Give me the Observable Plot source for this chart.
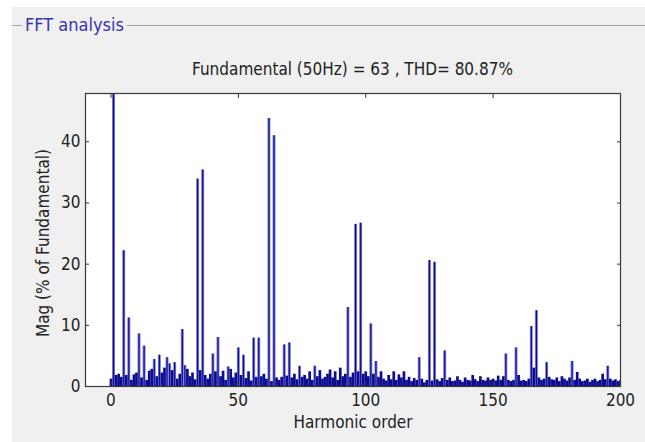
<!DOCTYPE html>
<html><head><meta charset="utf-8">
<script src="https://cdn.jsdelivr.net/npm/d3@7"></script>
<script src="https://cdn.jsdelivr.net/npm/@observablehq/plot@0.6"></script>
<style>
body{margin:0;background:#fff;}
#wrap{position:relative;width:645px;height:442px;overflow:hidden;background:#fff;font-family:"DejaVu Sans Condensed","Liberation Sans",sans-serif;}
#panel{position:absolute;left:12px;top:7px;right:0;bottom:0;background:#f0f0f0;}
#hline{position:absolute;left:12px;top:25px;width:633px;height:1px;background:#a8a8a8;}
#hdr{position:absolute;left:22px;top:14px;height:22px;line-height:22px;padding:0 3px;background:#f0f0f0;color:#3434b4;font-size:18px;}
#title{position:absolute;left:85px;width:535px;top:58px;text-align:center;font-size:17px;color:#222;line-height:22px;}
#chart{position:absolute;left:0;top:0;}
</style></head>
<body>
<div id="wrap">
  <div id="panel"></div>
  <div id="hline"></div>
  <div id="hdr">FFT analysis</div>
  <div id="title">Fundamental (50Hz) = 63 , THD= 80.87%</div>
  <div id="chart"></div>
</div>
<script>
// Harmonic magnitudes (% of fundamental), harmonic order 0..200
const mag = [
 1.2,100,1.8,2.0,1.5,22.2,1.8,11.2,1.0,1.9,
 2.2,8.6,1.4,6.6,1.0,2.5,2.8,4.4,1.6,5.1,
 2.2,3.0,4.7,3.7,2.6,3.9,1.2,2.0,9.3,3.4,
 2.8,1.6,2.2,1.1,33.9,2.6,35.4,1.8,1.2,2.0,
 5.3,2.4,8.0,1.6,2.5,1.0,3.2,2.8,1.4,2.2,
 6.3,1.8,5.1,1.3,2.4,0.9,7.9,1.5,7.9,1.6,
 2.0,1.2,43.8,0.8,41.0,1.4,1.0,1.5,6.8,1.7,
 7.1,1.4,2.0,1.1,3.3,1.5,1.8,1.2,2.4,1.0,
 3.3,1.6,2.6,1.2,1.5,2.0,2.7,1.4,2.4,1.0,
 3.0,1.6,2.0,12.9,1.5,2.2,26.5,2.4,26.7,2.0,
 2.4,1.6,10.2,2.0,4.1,1.5,2.4,1.2,0.9,1.8,
 1.1,2.4,1.0,1.9,1.4,2.4,1.0,1.5,0.8,1.3,
 1.0,4.7,1.2,0.6,1.0,20.6,0.9,20.3,1.1,0.8,
 1.3,5.8,1.0,1.4,0.8,0.9,1.6,1.0,0.7,1.4,
 1.0,0.9,1.8,1.1,0.8,1.6,1.0,0.9,1.4,1.0,
 1.2,0.9,1.7,1.0,1.6,5.3,1.0,0.8,1.0,6.3,
 1.8,0.9,1.0,0.8,1.2,9.8,3.0,12.4,1.4,1.0,
 1.2,3.9,1.5,1.1,1.0,1.4,0.8,1.6,1.2,0.9,
 1.4,4.1,1.0,2.3,1.2,0.8,0.9,1.2,0.7,1.0,
 1.2,0.8,1.0,2.0,1.1,3.3,1.2,0.9,1.1,0.8,
 1.0
];
const xTicks = [0, 50, 100, 150, 200];
const yTicks = [0, 10, 20, 30, 40];
const xDomain = [-10, 200];
const yDomain = [0, 47.9];

const data = mag.map((v, i) => ({h: i, v}));
const tall = data.filter(d => d.v > 3);
const font = '"DejaVu Sans Condensed","Liberation Sans",sans-serif';

const chart = Plot.plot({
  width: 645, height: 442,
  marginLeft: 85, marginRight: 25, marginTop: 93, marginBottom: 56,
  style: {background: "transparent", fontFamily: font, fontSize: "17px", color: "#222"},
  x: {domain: xDomain, label: null},
  y: {domain: yDomain, label: null},
  marks: [
    Plot.frame({fill: "white", stroke: null}),
    Plot.ruleX(tall, {x: "h", y1: 0, y2: "v", stroke: "#7d7dd6", strokeWidth: 3, clip: true}),
    Plot.ruleX(data, {x: "h", y1: 0, y2: "v", stroke: "#0c0c90", strokeWidth: d => d.v <= 3 ? 2.7 : 1.2, clip: true}),
    Plot.axisX({ticks: xTicks, tickSize: 0, tickPadding: 7, anchor: "bottom", label: null}),
    Plot.axisY({ticks: yTicks, tickSize: 0, tickPadding: 5, anchor: "left", label: null}),
    Plot.axisX({ticks: xTicks, tickSize: -4, anchor: "bottom", tickFormat: () => "", label: null, stroke: "#333"}),
    Plot.axisX({ticks: xTicks, tickSize: -4, anchor: "top", tickFormat: () => "", label: null, stroke: "#333"}),
    Plot.axisY({ticks: yTicks, tickSize: -4, anchor: "left", tickFormat: () => "", label: null, stroke: "#333"}),
    Plot.axisY({ticks: yTicks, tickSize: -4, anchor: "right", tickFormat: () => "", label: null, stroke: "#333"}),
    Plot.frame({stroke: "#3a3a3a", strokeWidth: 1.2}),
    Plot.text(["Mag (% of Fundamental)"], {frameAnchor: "left", dx: -42, dy: 3, rotate: -90, textAnchor: "middle", fontSize: 17, fill: "#222"}),
    Plot.text(["Harmonic order"], {frameAnchor: "bottom", dy: 41, fontSize: 17, fill: "#222"})
  ]
});
document.getElementById("chart").appendChild(chart);
</script>
</body></html>
